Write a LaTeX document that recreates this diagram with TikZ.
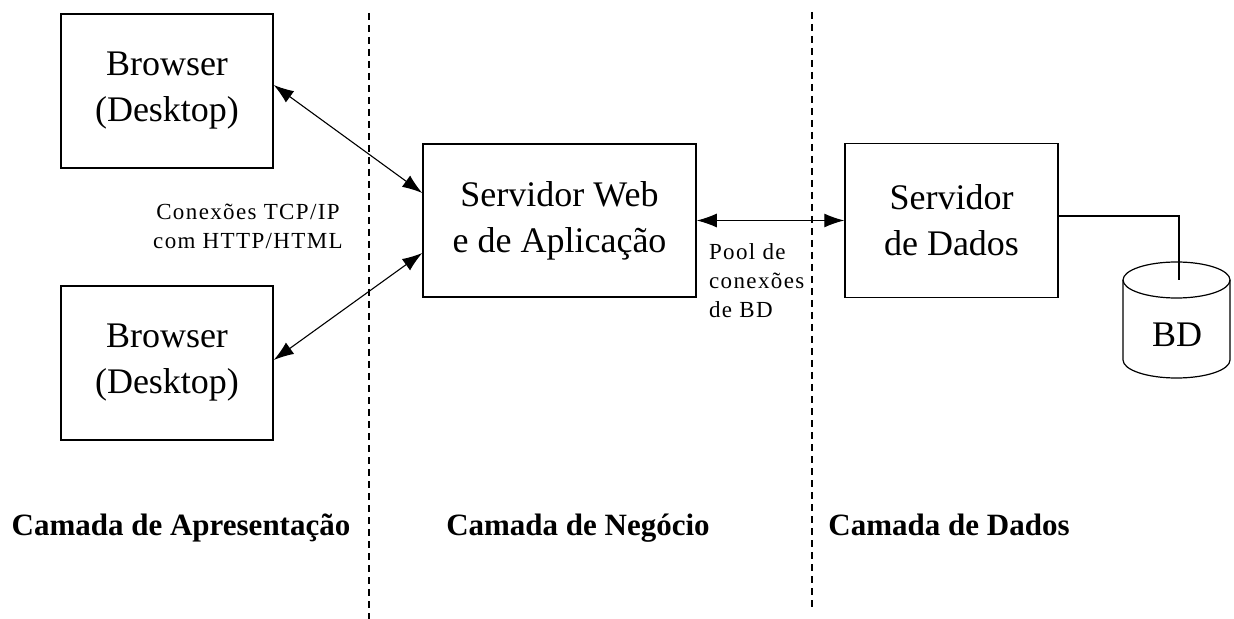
\documentclass[tikz,border=0pt]{standalone}
\usepackage{fontspec}
\setmainfont{Liberation Serif}
\usetikzlibrary{arrows.meta}

\begin{document}
\begin{tikzpicture}[x=0.5pt,y=-0.5pt,
  box/.style={draw, line width=0.75pt, inner sep=0pt, align=center,
    font=\fontsize{18}{23}\selectfont},
  link/.style={line width=0.55pt,
    {Latex[length=10pt,width=7pt]}-{Latex[length=10pt,width=7pt]}},
  wire/.style={line width=0.6pt},
  divider/.style={line width=0.6pt, dash pattern=on 3.5pt off 2.5pt},
  small/.style={font=\fontsize{11.5}{14.5}\selectfont\addfontfeatures{LetterSpace=6}},
  layer/.style={anchor=base, font=\fontsize{15.5}{18}\selectfont\bfseries}]
\useasboundingbox (0,0) rectangle (1234,619);

% tier separators
\coordinate (s1top) at (369,13);
\coordinate (s1bot) at (369,619);
\coordinate (s2top) at (812,12);
\coordinate (s2bot) at (812,609);
\draw[divider] (s1top) -- (s1bot);
\draw[divider] (s2top) -- (s2bot);

% boxes
\node[box, minimum width=106pt, minimum height=77pt] (b1) at (167,91) {Browser\\(Desktop)};
\node[box, minimum width=106pt, minimum height=77pt] (b2) at (167,363) {Browser\\(Desktop)};
\node[box, minimum width=136.5pt, minimum height=76.5pt] (web) at (559.5,220.5) {Servidor Web\\e de Aplicação};
\node[box, minimum width=106.5pt, minimum height=77pt] (dados) at (951.5,220.5) {Servidor\\de Dados};

% database cylinder
\draw[line width=0.6pt] (1123,280) -- (1123,360)
  arc[start angle=180, end angle=360, x radius=53.5pt/2, y radius=9pt] -- (1230,280);
\draw[line width=0.6pt] (1176.5,280) ellipse[x radius=53.5pt/2, y radius=9pt];
\node[font=\fontsize{18}{23}\selectfont] (bd) at (1177,335) {BD};
\coordinate (dbtap) at (1179,280);

% connectors
\draw[link] ([yshift=3pt]b1.east) -- ([yshift=13.75pt]web.west);
\draw[link] ([yshift=1.5pt]b2.east) -- ([yshift=-16.25pt]web.west);
\draw[link] (web.east) -- (dados.west);
\draw[wire] ([yshift=2.25pt]dados.east) -| (dbtap);

% connector labels
\node[small, align=center] (tcp) at (248,226) {Conexões TCP/IP\\com HTTP/HTML};
\node[small, align=left, anchor=west] (pool) at (702,281) {Pool de\\conexões\\de BD};

% tier names
\node[layer] (l1) at (181,535) {Camada de Apresentação};
\node[layer] (l2) at (578,535) {Camada de Negócio};
\node[layer] (l3) at (949,535) {Camada de Dados};
\end{tikzpicture}
\end{document}
